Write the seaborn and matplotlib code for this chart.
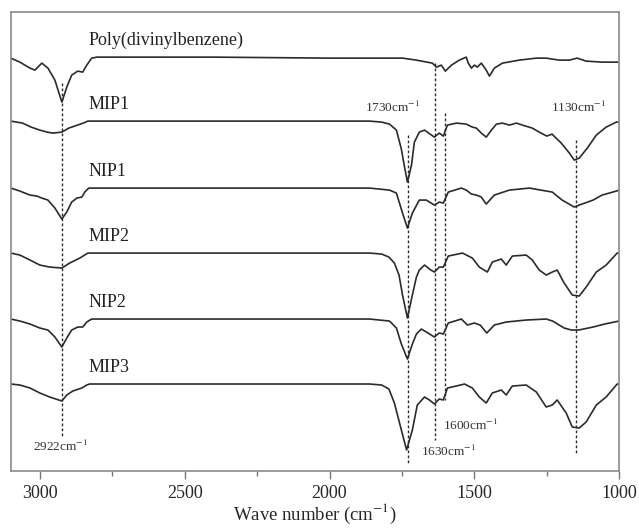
import pandas as pd
import matplotlib
matplotlib.use("Agg")
import matplotlib.pyplot as plt
import seaborn as sns
from matplotlib.ticker import MultipleLocator

# ==========================================
# 1. SPECTRA
# ==========================================
# depth = how far the trace dips below its own baseline (a.u.)
names = ["Poly(divinylbenzene)", "MIP1", "NIP1", "MIP2", "NIP2", "MIP3"]
offsets = [57, 121, 188, 253, 319, 384]

poly_wn = [3100, 3069, 3034, 3017, 2993, 2972, 2948, 2924, 2907, 2890, 2869, 2852, 2838, 2821, 2803,
           2400, 2000, 1862, 1748, 1700, 1645, 1631, 1614, 1600, 1579, 1552, 1528, 1521, 1510, 1500,
           1490, 1476, 1459, 1448, 1431, 1403, 1345, 1286, 1252, 1207, 1172, 1145, 1114, 1059, 1000]
poly_d = [1, 5, 11, 13, 6, 11, 23, 45, 30, 18, 14, 15, 8, 1, 0,
          0, 1, 1, 1, 3, 6, 10, 8, 14, 8, 3, 0, 6, 11, 8,
          10, 6, 13, 19, 11, 6, 3, 1, 1, 3, 3, 1, 4, 5, 5]

mip1_wn = [3100, 3060, 3030, 3000, 2975, 2955, 2924, 2900, 2870, 2850, 2834,
           1862, 1820, 1793, 1769, 1752, 1741, 1731, 1717, 1707, 1690, 1672, 1648, 1638, 1621, 1607,
           1593, 1562, 1528, 1507, 1493, 1476, 1459, 1441, 1424, 1403, 1379, 1355, 1334, 1300, 1276,
           1250, 1232, 1200, 1172, 1155, 1138, 1110, 1079, 1045, 1010, 1000]
mip1_d = [0, 2, 6, 9, 11, 12, 11, 7, 4, 2, 0,
          0, 1, 3, 9, 28, 46, 61, 44, 21, 11, 9, 14, 16, 12, 15,
          4, 2, 3, 6, 7, 12, 16, 9, 3, 2, 4, 2, 4, 7, 11,
          15, 13, 22, 32, 39, 37, 27, 14, 6, 1, 1]

nip1_wn = [3100, 3069, 3034, 3010, 2993, 2972, 2948, 2924, 2907, 2890, 2872, 2855, 2845, 2831,
           1862, 1793, 1769, 1748, 1731, 1714, 1690, 1666, 1638, 1621, 1607, 1590, 1545, 1528, 1510,
           1493, 1476, 1459, 1431, 1379, 1310, 1231, 1197, 1155, 1138, 1090, 1059, 1010, 1000]
nip1_d = [0, 3, 7, 8, 10, 12, 20, 31, 24, 14, 10, 9, 4, 0,
          0, 2, 5, 25, 40, 25, 12, 12, 17, 14, 15, 4, 0, 2, 6,
          7, 9, 16, 7, 2, 0, 4, 12, 19, 17, 12, 7, 3, 2]

mip2_wn = [3100, 3069, 3034, 3000, 2966, 2924, 2897, 2862, 2834,
           1862, 1820, 1795, 1776, 1760, 1748, 1731, 1714, 1700, 1690, 1672, 1650, 1638, 1621, 1607,
           1590, 1541, 1507, 1483, 1455, 1438, 1407, 1390, 1369, 1321, 1300, 1276, 1252, 1231, 1214,
           1190, 1162, 1138, 1114, 1079, 1045, 1007, 1000]
mip2_d = [0, 2, 7, 12, 14, 15, 10, 5, 0,
          0, 1, 4, 10, 22, 42, 65, 42, 24, 17, 12, 17, 19, 14, 14,
          3, 0, 5, 14, 19, 9, 6, 12, 3, 2, 7, 17, 22, 19, 17,
          30, 42, 43, 34, 19, 12, 0, 0]

nip2_wn = [3100, 3069, 3034, 3000, 2972, 2948, 2924, 2907, 2890, 2869, 2852, 2838, 2821,
           1862, 1793, 1769, 1752, 1731, 1714, 1700, 1683, 1660, 1638, 1621, 1607, 1590, 1545, 1524,
           1500, 1480, 1457, 1431, 1390, 1321, 1252, 1230, 1190, 1165, 1140, 1090, 1050, 1000]
nip2_d = [0, 2, 5, 9, 11, 18, 28, 19, 11, 8, 8, 3, 0,
          0, 2, 9, 25, 40, 25, 15, 10, 14, 18, 14, 15, 4, 0, 6,
          4, 6, 14, 6, 3, 1, 0, 2, 9, 11, 11, 8, 5, 2]

mip3_wn = [3100, 3069, 3034, 3000, 2966, 2924, 2907, 2886, 2855, 2838, 2828,
           1862, 1820, 1795, 1776, 1752, 1734, 1714, 1697, 1672, 1655, 1638, 1621, 1607, 1593, 1562,
           1534, 1507, 1483, 1459, 1438, 1407, 1390, 1369, 1321, 1286, 1252, 1231, 1214, 1183, 1162,
           1138, 1114, 1079, 1045, 1007, 1000]
mip3_d = [0, 1, 4, 9, 13, 17, 11, 7, 4, 1, 0,
          0, 1, 5, 19, 46, 66, 46, 21, 13, 16, 20, 15, 16, 4, 2,
          0, 4, 13, 19, 9, 6, 11, 2, 1, 8, 23, 21, 16, 29, 43,
          44, 38, 21, 13, 0, 0]

spectra = [(poly_wn, poly_d), (mip1_wn, mip1_d), (nip1_wn, nip1_d),
           (mip2_wn, mip2_d), (nip2_wn, nip2_d), (mip3_wn, mip3_d)]

# marked bands: line position, label, and how far the dashed line runs
band_pos = [2922, 1730, 1635, 1603, 1150]
band_labels = ["2922cm$^{-1}$", "1730cm$^{-1}$", "1630cm$^{-1}$", "1600cm$^{-1}$", "1130cm$^{-1}$"]
band_top = [83, 135, 63, 113, 140]
band_bottom = [436, 463, 440, 400, 455]

# ==========================================
# 2. LONG TABLE FOR SEABORN
# ==========================================
frames = []
for name, off, (wn, d) in zip(names, offsets, spectra):
    frames.append(pd.DataFrame({"wn": wn, "y": [off + v for v in d], "sample": name}))
df = pd.concat(frames, ignore_index=True)

# ==========================================
# 3. PLOT
# ==========================================
sns.set_style("white")
plt.rcParams["font.family"] = ["Liberation Serif", "DejaVu Serif"]
plt.rcParams["mathtext.fontset"] = "stix"

fig = plt.figure(figsize=(6.39, 5.28), dpi=100)
ax = fig.add_axes([0.017, 0.108, 0.952, 0.869])

line_col = "#2b2b2b"
for name in names:
    sub = df[df["sample"] == name]
    sns.lineplot(data=sub, x="wn", y="y", estimator=None, sort=False,
                 color=line_col, linewidth=1.2, ax=ax)

# dashed band markers
for x, y0, y1 in zip(band_pos, band_top, band_bottom):
    ax.vlines(x, y0, y1, colors=line_col, linestyles=(0, (2, 1.6)), linewidth=1.0)

# sample names
for name, off in zip(names, offsets):
    ax.text(2831, off - 17, name, fontsize=13, ha="left", va="center", color="#222222")

# band labels
ax.text(2928, 446, band_labels[0], fontsize=9.5, ha="center", va="center", color="#333333")
ax.text(1687, 107, band_labels[1], fontsize=9.5, ha="right", va="center", color="#333333")
ax.text(1683, 451, band_labels[2], fontsize=9.5, ha="left", va="center", color="#333333")
ax.text(1607, 425, band_labels[3], fontsize=9.5, ha="left", va="center", color="#333333")
ax.text(1045, 107, band_labels[4], fontsize=9.5, ha="right", va="center", color="#333333")

ax.set_xlim(3100, 1000)
ax.set_ylim(471, 12)
ax.set_yticks([])
ax.set_ylabel("")
ax.xaxis.set_major_locator(MultipleLocator(500))
ax.xaxis.set_minor_locator(MultipleLocator(250))
ax.tick_params(axis="x", which="major", direction="out", length=6, width=1,
               color="#777777", labelsize=13, pad=4, bottom=True)
ax.tick_params(axis="x", which="minor", direction="out", length=3.5, width=1,
               color="#777777", bottom=True)
for s in ax.spines.values():
    s.set_color("#8a8a8a")
    s.set_linewidth(1.2)

ax.set_xlabel("Wave number (cm$^{-1}$)", fontsize=13.5, labelpad=0)

plt.savefig("out.png", dpi=100)
